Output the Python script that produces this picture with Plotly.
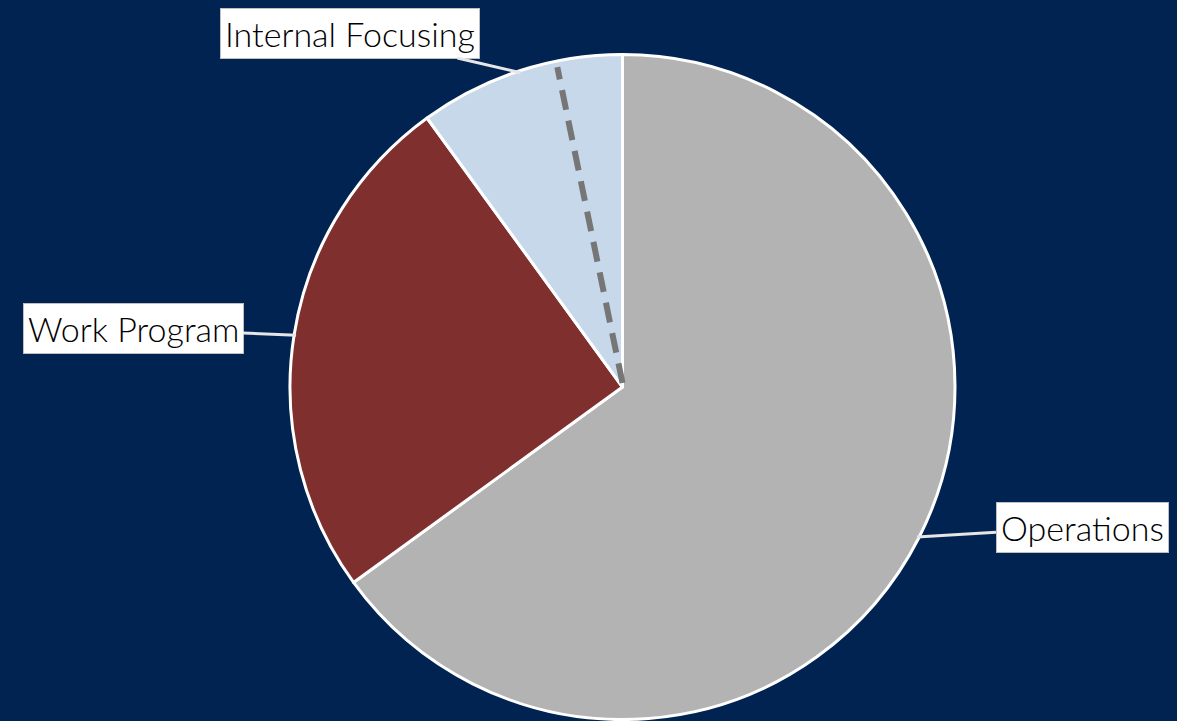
import math
import plotly.graph_objects as go

labels = ["Operations", "Work Program", "Internal Focusing"]
values = [65, 25, 10]
colors = ["#B3B3B3", "#7F2F2E", "#C6D8EA"]
# dashed divider inside "Internal Focusing", as % of total measured counter-clockwise from 12 o'clock
dashed_split_pct = 3.2

W, H = 1177, 721
cx_px, cy_px, r_px = 622.5, 387, 332.5

fig = go.Figure(go.Pie(
    labels=labels, values=values, sort=False, direction="clockwise", rotation=0,
    marker=dict(colors=colors, line=dict(color="white", width=3)),
    textinfo="none", hoverinfo="label+percent", showlegend=False,
    domain=dict(x=[(cx_px - r_px) / W, (cx_px + r_px) / W],
                y=[1 - (cy_px + r_px) / H, 1 - (cy_px - r_px) / H]),
))

# label boxes (pixel centers)
box_centers = {"Operations": (1082, 527), "Work Program": (133, 328), "Internal Focusing": (350, 33)}

total = sum(values)
cum = 0
for lab, v in zip(labels, values):
    mid = (cum + v / 2) / total * 2 * math.pi
    cum += v
    tx = cx_px + (r_px - 2) * math.sin(mid)
    ty = cy_px - (r_px - 2) * math.cos(mid)
    bx, by = box_centers[lab]
    fig.add_annotation(
        x=tx / W, y=1 - ty / H, xref="paper", yref="paper",
        ax=bx - tx, ay=by - ty, axref="pixel", ayref="pixel",
        text=lab, showarrow=True, arrowhead=0, arrowwidth=3, arrowcolor="#E6E6E6",
        font=dict(family="Lato, 'DejaVu Sans', sans-serif", size=34, color="#000000", weight=300),
        bgcolor="white", bordercolor="#BFBFBF", borderwidth=1, borderpad=4,
        standoff=0,
    )

# dashed divider line
ang = 2 * math.pi - dashed_split_pct / 100 * 2 * math.pi
x0, y0 = cx_px, cy_px - 4
x1 = cx_px + (r_px - 6) * math.sin(ang)
y1 = cy_px - (r_px - 6) * math.cos(ang)
fig.add_shape(type="line", xref="paper", yref="paper",
              x0=x0 / W, y0=1 - y0 / H, x1=x1 / W, y1=1 - y1 / H,
              line=dict(color="#767676", width=6, dash="20px,11px"))

fig.update_layout(
    width=W, height=H, margin=dict(l=0, r=0, t=0, b=0),
    paper_bgcolor="#002352", plot_bgcolor="#002352",
)
fig.write_html("out.html", config={"displayModeBar": False},
               post_script="document.body.style.margin='0';document.body.style.overflow='hidden';")
